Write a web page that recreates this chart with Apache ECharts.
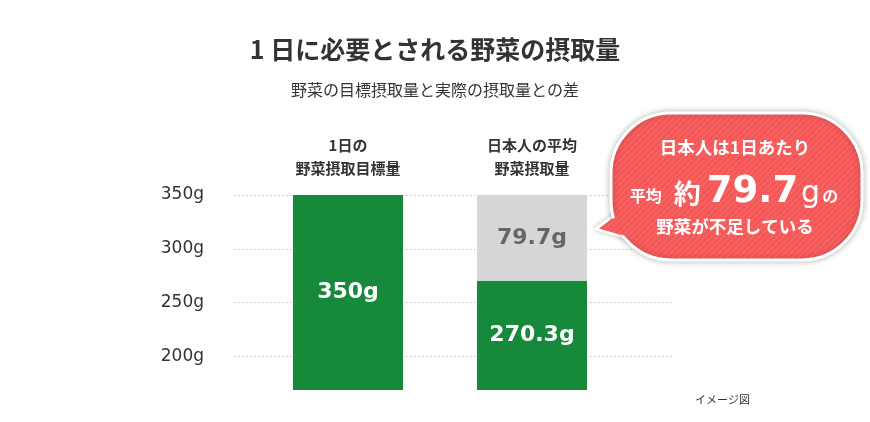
<!DOCTYPE html>
<html><head><meta charset="utf-8">
<script src="https://cdn.jsdelivr.net/npm/echarts@6/dist/echarts.min.js"></script>
<style>html,body{margin:0;padding:0;background:#fff}#c{width:870px;height:422px}</style>
</head><body><div id="c"></div>
<script>
const categories = ['1日の\n野菜摂取目標量', '日本人の平均\n野菜摂取量'];
const intake = [350, 270.3];
const shortfall = [null, 79.7];
const yTicks = [200, 250, 300, 350];
const yMin = 169, yMax = 350;

const JP = '"Noto Sans CJK JP", sans-serif';
const NUM = '"DejaVu Sans", sans-serif';

const pc = document.createElement('canvas');
pc.width = 6; pc.height = 6;
const g = pc.getContext('2d');
g.fillStyle = '#f45757'; g.fillRect(0, 0, 6, 6);
g.strokeStyle = '#f86767'; g.lineWidth = 1.4;
g.beginPath();
g.moveTo(0, 6); g.lineTo(6, 0);
g.moveTo(-3, 3); g.lineTo(3, -3);
g.moveTo(3, 9); g.lineTo(9, 3);
g.stroke();
const pattern = { image: pc, repeat: 'repeat' };

const chart = echarts.init(document.getElementById('c'), null, { renderer: 'canvas' });
const white = '#fff';
chart.setOption({
  backgroundColor: '#fff',
  animation: false,
  title: [
    { text: '1 日に必要とされる野菜の摂取量', left: 'center', top: 32,
      textStyle: { fontFamily: JP, fontSize: 25, fontWeight: 'bold', color: '#333' } },
    { text: '野菜の目標摂取量と実際の摂取量との差', left: 'center', top: 77,
      textStyle: { fontFamily: JP, fontSize: 16, fontWeight: 'normal', color: '#333' } },
    { text: 'イメージ図', left: 690, top: 389,
      textStyle: { fontFamily: JP, fontSize: 11, fontWeight: 'normal', color: '#333' } }
  ],
  grid: [
    { left: 234, right: 198, top: 195, bottom: 32 },
    { left: 256, right: 246, top: 195, bottom: 32 }
  ],
  xAxis: [
    { type: 'category', gridIndex: 0, data: categories, show: false },
    { type: 'category', gridIndex: 1, data: categories, position: 'top',
      axisLine: { show: false }, axisTick: { show: false },
      axisLabel: { fontFamily: JP, fontSize: 15, fontWeight: 'bold', color: '#333', lineHeight: 23, margin: 15 } }
  ],
  yAxis: [
    { type: 'value', gridIndex: 0, min: yMin, max: yMax,
      axisLine: { show: false },
      axisTick: { show: false, customValues: yTicks },
      axisLabel: { customValues: yTicks, formatter: '{value}g', margin: 30,
        fontFamily: NUM, fontSize: 17, color: '#333' },
      splitLine: { show: true, lineStyle: { type: [1.5, 2.5], color: '#bbb', width: 1 } } },
    { type: 'value', gridIndex: 1, min: yMin, max: yMax, show: false, splitLine: { show: false } }
  ],
  series: [
    { type: 'bar', xAxisIndex: 1, yAxisIndex: 1, stack: 'v', data: intake, barWidth: 110,
      itemStyle: { color: '#17893b' },
      label: { show: true, position: 'inside', formatter: p => p.value + 'g',
        color: white, fontFamily: NUM, fontSize: 22, fontWeight: 'bold' } },
    { type: 'bar', xAxisIndex: 1, yAxisIndex: 1, stack: 'v', data: shortfall, barWidth: 110,
      itemStyle: { color: '#d6d6d6' },
      label: { show: true, position: 'inside', formatter: p => p.value + 'g',
        color: '#666', fontFamily: NUM, fontSize: 22, fontWeight: 'bold' } }
  ],
  graphic: [
    { type: 'polygon', z: 10, shape: { points: [[596, 229], [626, 206], [640, 242]] },
      style: { fill: pattern, stroke: '#fff', lineWidth: 3, shadowBlur: 5, shadowColor: 'rgba(0,0,0,0.2)' } },
    { type: 'rect', z: 11, shape: { x: 611, y: 113, width: 251, height: 147, r: 60 },
      style: { fill: pattern, stroke: '#fff', lineWidth: 3, shadowBlur: 6, shadowColor: 'rgba(0,0,0,0.25)' } },
    { type: 'polygon', z: 12, shape: { points: [[599, 228.5], [628, 208], [640, 240]] },
      style: { fill: pattern } },
    { type: 'text', z: 13, x: 735, y: 147,
      style: { text: '日本人は1日あたり', fill: white, font: 'bold 17.5px ' + JP, align: 'center', verticalAlign: 'middle' } },
    { type: 'text', z: 13, x: 734, y: 187,
      style: {
        text: '{a|平均}{b|約}{c|' + shortfall[1] + '}{d|g}{e|の}',
        align: 'center', verticalAlign: 'middle',
        rich: {
          a: { fill: white, fontFamily: JP, fontSize: 16, fontWeight: 'bold', verticalAlign: 'bottom', lineHeight: 40, padding: [0, 12, 3, 0] },
          b: { fill: white, fontFamily: JP, fontSize: 27, fontWeight: 'bold', verticalAlign: 'bottom', lineHeight: 40, padding: [0, 6, 0, 0] },
          c: { fill: white, fontFamily: NUM, fontSize: 37, fontWeight: 'bold', verticalAlign: 'bottom', lineHeight: 40, padding: [0, 3, -4, 0] },
          d: { fill: white, fontFamily: NUM, fontSize: 30, fontWeight: 'normal', verticalAlign: 'bottom', lineHeight: 40, padding: [0, 2, -2, 0] },
          e: { fill: white, fontFamily: JP, fontSize: 16, fontWeight: 'bold', verticalAlign: 'bottom', lineHeight: 40, padding: [0, 0, 3, 0] }
        }
      } },
    { type: 'text', z: 13, x: 735, y: 226,
      style: { text: '野菜が不足している', fill: white, font: 'bold 17.5px ' + JP, align: 'center', verticalAlign: 'middle' } }
  ]
});
</script></body></html>
